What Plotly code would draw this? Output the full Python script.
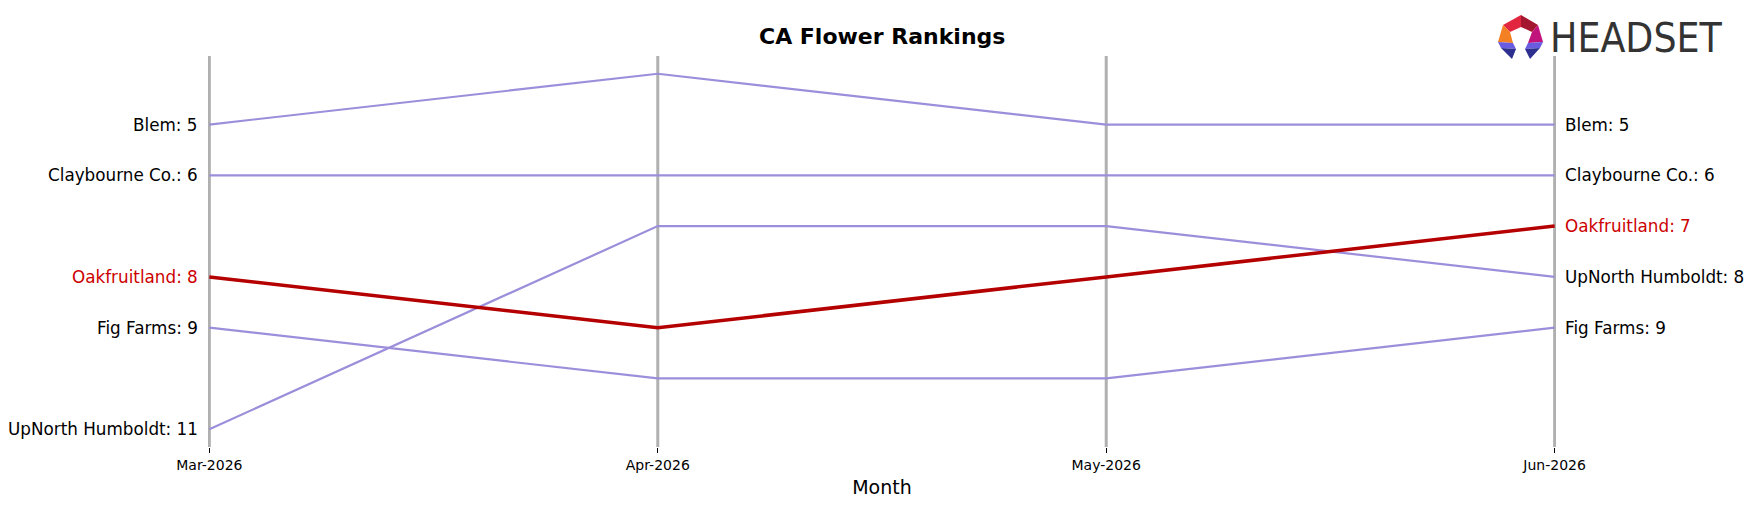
import plotly.graph_objects as go

months = ["Mar-2026", "Apr-2026", "May-2026", "Jun-2026"]
brands = ["Blem", "Claybourne Co.", "Oakfruitland", "Fig Farms", "UpNorth Humboldt"]
ranks = {
    "Blem": [5, 4, 5, 5],
    "Claybourne Co.": [6, 6, 6, 6],
    "Oakfruitland": [8, 9, 8, 7],
    "Fig Farms": [9, 10, 10, 9],
    "UpNorth Humboldt": [11, 7, 7, 8],
}
highlight = "Oakfruitland"

PURPLE = "#9c8edb"
RED = "#b50000"
RED_TXT = "#cc0000"

xs = list(range(len(months)))
fig = go.Figure()

# vertical month lines
for i in xs:
    fig.add_shape(type="line", xref="x", yref="paper", x0=i, x1=i, y0=0, y1=1,
                  line=dict(color="#b0b0b0", width=3), layer="below")

for b in brands:
    if b == highlight:
        continue
    fig.add_trace(go.Scatter(x=xs, y=ranks[b], mode="lines",
                             line=dict(color=PURPLE, width=2.2), showlegend=False,
                             hoverinfo="skip"))
fig.add_trace(go.Scatter(x=xs, y=ranks[highlight], mode="lines",
                         line=dict(color=RED, width=3.5), showlegend=False,
                         hoverinfo="skip"))

L, R, T, B = 208, 197, 56, 60
W, H = 1753, 507
pw, ph = W - L - R, H - T - B


def px(x):
    return (x - L) / pw


def py(y):
    return (H - B - y) / ph


annos = []
for b in brands:
    col = RED_TXT if b == highlight else "black"
    annos.append(dict(x=0, y=ranks[b][0], xref="x", yref="y", text=f"{b}: {ranks[b][0]}",
                      showarrow=False, xanchor="right", yanchor="middle", xshift=-9,
                      font=dict(size=16.8, color=col)))
    annos.append(dict(x=3, y=ranks[b][-1], xref="x", yref="y", text=f"{b}: {ranks[b][-1]}",
                      showarrow=False, xanchor="left", yanchor="middle", xshift=8,
                      font=dict(size=16.8, color=col)))

annos.append(dict(x=px(882), y=py(37), xref="paper", yref="paper",
                  text="<b>CA Flower Rankings</b>", showarrow=False,
                  xanchor="center", yanchor="middle",
                  font=dict(size=22, color="black")))
annos.append(dict(x=px(1636), y=py(38), xref="paper", yref="paper", text="HEADSET",
                  showarrow=False, xanchor="center", yanchor="middle",
                  font=dict(size=40.5, color="#333333", family="Liberation Sans Narrow, DejaVu Sans Condensed, sans-serif")))


def poly(pts, color):
    d = "M " + " L ".join(f"{px(x):.5f},{py(y):.5f}" for x, y in pts) + " Z"
    fig.add_shape(type="path", xref="paper", yref="paper", path=d,
                  fillcolor=color, line=dict(width=0))


# logo icon
poly([(1503, 25), (1521, 15), (1521, 27), (1510, 32)], "#e3263f")
poly([(1521, 15), (1538, 25), (1532, 32), (1521, 27)], "#a3172f")
poly([(1503, 25), (1510, 32), (1513, 43), (1498, 42)], "#f48024")
poly([(1538, 25), (1543, 42), (1528, 43), (1532, 32)], "#c0147c")
poly([(1498, 42), (1513, 43), (1516, 49), (1501, 48)], "#6a5ce0")
poly([(1501, 48), (1516, 49), (1512, 59)], "#2d2f8f")
poly([(1543, 42), (1528, 43), (1525, 49), (1540, 48)], "#6a5ce0")
poly([(1540, 48), (1525, 49), (1530, 59)], "#2d2f8f")

fig.update_layout(
    width=W, height=H,
    margin=dict(l=L, r=R, t=T, b=B),
    paper_bgcolor="white", plot_bgcolor="white",
    font=dict(family="DejaVu Sans, sans-serif", color="black"),
    annotations=annos,
    xaxis=dict(range=[-0.003, 3.003], tickmode="array", tickvals=xs, ticktext=months,
               showgrid=False, zeroline=False, showline=False,
               ticks="outside", ticklen=5, tickwidth=1, tickcolor="black",
               tickfont=dict(size=14, color="black"),
               title=dict(text="Month", font=dict(size=19, color="black"), standoff=8)),
    yaxis=dict(range=[11.35, 3.65], visible=False),
    showlegend=False,
)

fig.write_html("out.html")
